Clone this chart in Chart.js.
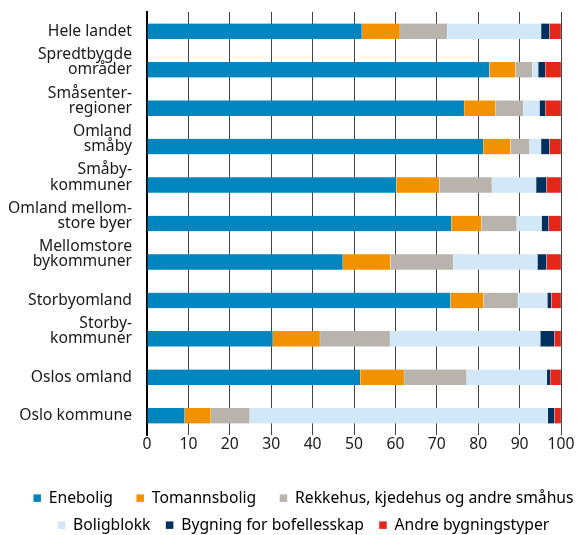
<!DOCTYPE html>
<html>
<head>
<meta charset="utf-8">
<script src="https://cdn.jsdelivr.net/npm/chart.js@4/dist/chart.umd.min.js"></script>
<style>
html,body{margin:0;padding:0;background:#fff;}
#wrap{width:577px;height:535px;}
</style>
</head>
<body>
<div id="wrap"><canvas id="c" width="577" height="535"></canvas></div>
<script>
const categories = [
  ["Hele landet"],
  ["Spredtbygde", "områder"],
  ["Småsenter-", "regioner"],
  ["Omland", "småby"],
  ["Småby-", "kommuner"],
  ["Omland mellom-", "store byer"],
  ["Mellomstore", "bykommuner"],
  ["Storbyomland"],
  ["Storby-", "kommuner"],
  ["Oslos omland"],
  ["Oslo kommune"]
];
const seriesNames = ["Enebolig", "Tomannsbolig", "Rekkehus, kjedehus og andre småhus", "Boligblokk", "Bygning for bofellesskap", "Andre bygningstyper"];
const enebolig     = [51.9, 82.7, 76.6, 81.2, 60.2, 73.5, 47.3, 73.3, 30.4, 51.5, 9.1];
const tomannsbolig = [9.2, 6.3, 7.6, 6.6, 10.4, 7.3, 11.5, 8.0, 11.4, 10.6, 6.3];
const rekkehus     = [11.4, 4.1, 6.7, 4.6, 12.7, 8.5, 15.2, 8.3, 16.9, 15.1, 9.4];
const boligblokk   = [22.7, 1.4, 3.9, 2.8, 10.7, 6.0, 20.3, 7.1, 36.3, 19.4, 72.0];
const bofellesskap = [2.0, 1.7, 1.4, 2.0, 2.5, 1.7, 2.2, 1.0, 3.4, 0.8, 1.6];
const andre        = [2.8, 3.8, 3.8, 2.8, 3.5, 3.0, 3.5, 2.3, 1.6, 2.6, 1.6];
const xTicks = [0, 10, 20, 30, 40, 50, 60, 70, 80, 90, 100];

const colors = ["#0085BF", "#F39200", "#B8B3AD", "#D2E7F8", "#00305E", "#E52619"];
const values = [enebolig, tomannsbolig, rekkehus, boligblokk, bofellesskap, andre];
const legendGap = [3, 3, 0, 1, 1, 0];

const FONT = "'Noto Sans', 'Open Sans', 'DejaVu Sans', sans-serif";
Chart.defaults.font.family = FONT;
Chart.defaults.color = "#1a1a1a";

new Chart(document.getElementById("c"), {
  type: "bar",
  data: {
    labels: categories,
    datasets: seriesNames.map((n, i) => ({
      label: n,
      data: values[i],
      backgroundColor: colors[i],
      borderColor: "rgba(255,255,255,0.6)",
      borderWidth: {left: 0, right: 0.5, top: 0, bottom: 0},
      borderSkipped: false,
      barThickness: 15.5
    }))
  },
  options: {
    indexAxis: "y",
    responsive: false,
    animation: false,
    devicePixelRatio: 1,
    layout: {padding: {top: 12, right: -30, left: 0, bottom: -8}},
    scales: {
      x: {
        stacked: true,
        min: 0,
        max: 100,
        afterBuildTicks: (s) => { s.ticks = xTicks.map(v => ({value: v})); },
        afterFit: (s) => { s.height = 44; s.paddingRight = 16; s.paddingLeft = 0; },
        grid: {color: "#444", lineWidth: 1, drawTicks: false},
        border: {display: false},
        ticks: {font: {size: 15.7}, color: "#1a1a1a", padding: 0, maxRotation: 0, autoSkip: false}
      },
      y: {
        stacked: true,
        afterFit: (s) => { s.width = 147; s.paddingTop = 0; s.paddingBottom = 0; },
        grid: {display: false, drawTicks: false},
        border: {display: true, color: "#000", width: 2},
        ticks: {
          font: {size: 15.7, lineHeight: 0.96},
          color: "#1a1a1a",
          padding: 15,
          autoSkip: false,
          callback: function (v) {
            const l = this.getLabelForValue(v);
            const lines = Array.isArray(l) ? l : [l];
            return lines.length > 1 ? lines.concat([""]) : lines;
          }
        }
      }
    },
    plugins: {
      legend: {
        position: "bottom",
        labels: {
          boxWidth: 7.5,
          boxHeight: 7.5,
          padding: 11.3,
          font: {size: 15.7},
          color: "#1a1a1a",
          generateLabels: (chart) => chart.data.datasets.map((d, i) => ({
            text: d.label + " ".repeat(legendGap[i]),
            fillStyle: d.backgroundColor, strokeStyle: d.backgroundColor,
            lineWidth: 0, hidden: false, datasetIndex: i
          }))
        }
      },
      tooltip: {enabled: false}
    }
  }
});
</script>
</body>
</html>
